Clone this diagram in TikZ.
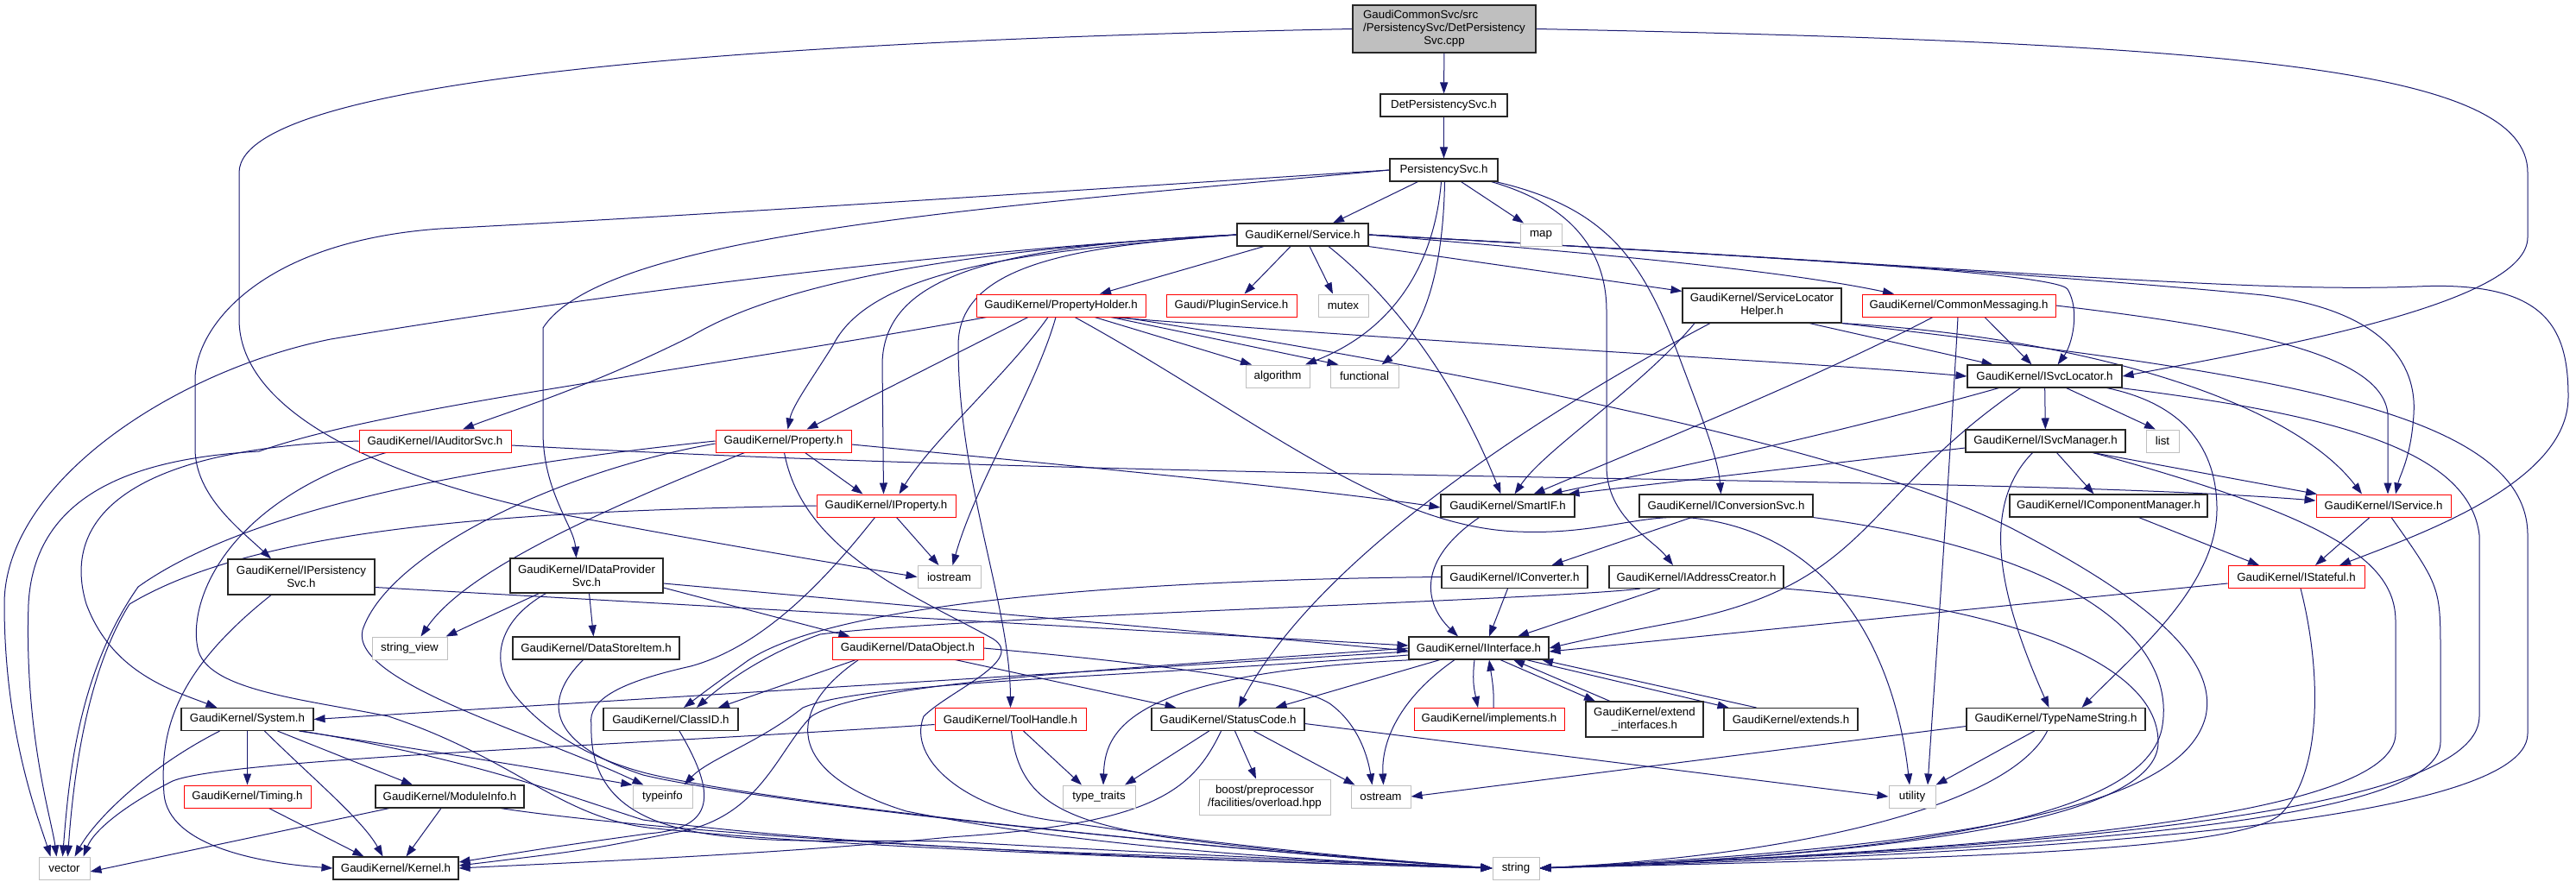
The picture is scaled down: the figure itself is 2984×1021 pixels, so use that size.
\documentclass[tikz,border=0pt]{standalone}
\usepackage{fontspec}
\setmainfont{Liberation Sans}
\usetikzlibrary{arrows.meta}
\definecolor{edgec}{HTML}{191970}
\definecolor{redc}{HTML}{FF0000}
\definecolor{grayb}{HTML}{BFBFBF}
\definecolor{rootf}{HTML}{BFBFBF}
\pgfdeclarelayer{back}
\pgfdeclarelayer{bg}
\pgfsetlayers{back,bg,main}
\newcommand\rootfirst{\setbox0=\hbox{/PersistencySvc/DetPersistency}\hbox to\wd0{GaudiCommonSvc/src\hfil}}
\tikzset{
 nbase/.style={rectangle, inner sep=0pt, minimum height=26pt, align=center, fill=white, font=\fontsize{13.3}{15}\selectfont, line width=1.1pt},
 nb/.style={nbase, draw=black!85},
 nr/.style={nbase, draw=redc, line width=1pt},
 ng/.style={nbase, draw=grayb, line width=1pt},
 nroot/.style={nbase, draw=black!85, fill=rootf, minimum height=55pt},
 dep/.style={draw=edgec, line width=1pt, -{Triangle[length=13pt,width=9pt]}},
}
\begin{document}
\begin{tikzpicture}[x=1pt,y=-1pt]
\begin{pgfonlayer}{back}
\fill[white] (0,0) rectangle (2984,1021);
\end{pgfonlayer}
\useasboundingbox (0,0) rectangle (2984,1021);
% nodes
\node[nroot, minimum width=212pt] (root) at (1673,33.5) {\rootfirst\\/PersistencySvc/DetPersistency\\Svc.cpp};
\node[nb, minimum width=147pt] (detps) at (1672.5,122) {DetPersistencySvc.h};
\node[nb, minimum width=125pt] (ps) at (1672.5,197) {PersistencySvc.h};
\node[nb, minimum width=152pt] (service) at (1509,272) {GaudiKernel/Service.h};
\node[ng, minimum width=48pt] (map) at (1785,272) {map};
\node[nr, minimum width=196pt] (propholder) at (1229,354) {GaudiKernel/PropertyHolder.h};
\node[nr, minimum width=151pt] (plugin) at (1426.5,354) {Gaudi/PluginService.h};
\node[ng, minimum width=58pt] (mutex) at (1556,354) {mutex};
\node[nb, minimum width=184pt, minimum height=40pt] (slh) at (2041,354) {GaudiKernel/ServiceLocator\\Helper.h};
\node[nr, minimum width=224pt] (commsg) at (2269,354) {GaudiKernel/CommonMessaging.h};
\node[ng, minimum width=74pt] (algorithm) at (1480,436) {algorithm};
\node[ng, minimum width=79pt] (functional) at (1580.5,436) {functional};
\node[nb, minimum width=179pt] (isvcloc) at (2368.5,436) {GaudiKernel/ISvcLocator.h};
\node[ng, minimum width=38pt] (list) at (2505,511) {list};
\node[nb, minimum width=185pt] (isvcmgr) at (2369.5,511) {GaudiKernel/ISvcManager.h};
\node[nr, minimum width=176pt] (iaud) at (504,511) {GaudiKernel/IAuditorSvc.h};
\node[nr, minimum width=157pt] (property) at (907.5,511) {GaudiKernel/Property.h};
\node[nr, minimum width=161pt] (iprop) at (1026.5,586) {GaudiKernel/IProperty.h};
\node[nb, minimum width=155pt] (smartif) at (1746.5,586) {GaudiKernel/SmartIF.h};
\node[nb, minimum width=201pt] (iconvsvc) at (1999.5,586) {GaudiKernel/IConversionSvc.h};
\node[nb, minimum width=229pt] (icompmgr) at (2442.5,586) {GaudiKernel/IComponentManager.h};
\node[nr, minimum width=156pt] (iservice) at (2761,586) {GaudiKernel/IService.h};
\node[nb, minimum width=170pt, minimum height=41pt] (ipers) at (349,668.5) {GaudiKernel/IPersistency\\Svc.h};
\node[nb, minimum width=177pt, minimum height=40pt] (idp) at (679.5,667) {GaudiKernel/IDataProvider\\Svc.h};
\node[ng, minimum width=73pt] (iostream) at (1099.5,668.5) {iostream};
\node[nb, minimum width=169pt] (iconv) at (1754.5,668.5) {GaudiKernel/IConverter.h};
\node[nb, minimum width=202pt] (iaddr) at (1965,668.5) {GaudiKernel/IAddressCreator.h};
\node[nr, minimum width=158pt] (istateful) at (2660,668.5) {GaudiKernel/IStateful.h};
\node[ng, minimum width=87pt] (stringview) at (474.5,751) {string\_view};
\node[nb, minimum width=193pt] (dsi) at (690.5,751) {GaudiKernel/DataStoreItem.h};
\node[nr, minimum width=175pt] (dataobj) at (1051.5,751) {GaudiKernel/DataObject.h};
\node[nb, minimum width=162pt] (iinterface) at (1713,751) {GaudiKernel/IInterface.h};
\node[nb, minimum width=153pt] (system) at (286.5,833.5) {GaudiKernel/System.h};
\node[nb, minimum width=156pt] (classid) at (777,833.5) {GaudiKernel/ClassID.h};
\node[nr, minimum width=175pt] (toolhandle) at (1170.5,833.5) {GaudiKernel/ToolHandle.h};
\node[nb, minimum width=177pt] (statuscode) at (1422.5,833.5) {GaudiKernel/StatusCode.h};
\node[nr, minimum width=174pt] (implements) at (1725,833.5) {GaudiKernel/implements.h};
\node[nb, minimum width=136pt, minimum height=41pt] (extint) at (1905,833.5) {GaudiKernel/extend\\\_interfaces.h};
\node[nb, minimum width=155pt] (extends) at (2074.5,833.5) {GaudiKernel/extends.h};
\node[nb, minimum width=207pt] (typenamestr) at (2381.5,833.5) {GaudiKernel/TypeNameString.h};
\node[nr, minimum width=147pt] (timing) at (286.5,923) {GaudiKernel/Timing.h};
\node[nb, minimum width=172pt] (moduleinfo) at (521,923) {GaudiKernel/ModuleInfo.h};
\node[ng, minimum width=69pt] (typeinfo) at (767.5,923) {typeinfo};
\node[ng, minimum width=84pt] (typetraits) at (1273,923) {type\_traits};
\node[ng, minimum width=152pt, minimum height=41pt] (boost) at (1465,923.5) {boost/preprocessor\\/facilities/overload.hpp};
\node[ng, minimum width=69pt] (ostream) at (1599.5,923) {ostream};
\node[ng, minimum width=54pt] (utility) at (2215,923) {utility};
\node[ng, minimum width=59pt] (vector) at (74.5,1006) {vector};
\node[nb, minimum width=145pt] (kernel) at (458.5,1006) {GaudiKernel/Kernel.h};
\node[ng, minimum width=54pt] (string) at (1756,1006) {string};
\begin{pgfonlayer}{bg}
% root
\draw[dep] (root) -- (detps);
\draw[dep] (root.west) .. controls (1000,45) and (277,80) .. (277,200) -- (277,370) .. controls (277,470) and (420,545) .. (620,590) .. controls (800,625) and (950,650) .. (iostream.west);
\draw[dep] (root.east) .. controls (2600,50) and (2928,80) .. (2928,200) -- (2928,275) .. controls (2928,350) and (2650,400) .. (isvcloc.east);
\draw[dep] (detps) -- (ps);
% ps
\draw[dep] ([xshift=-30pt]ps.south) -- ([xshift=35pt]service.north);
\draw[dep] ([xshift=20pt]ps.south) -- ([xshift=-20pt]map.north);
\draw[dep] ([xshift=-3pt]ps.south) .. controls (1662,300) and (1620,380) .. ([xshift=32pt]algorithm.north);
\draw[dep] ([xshift=1pt]ps.south) .. controls (1672,300) and (1655,380) .. ([xshift=20pt]functional.north);
\draw[dep] (ps.west) .. controls (1100,230) and (800,250) .. (510,265) .. controls (300,280) and (226,380) .. (226,440) -- (226,520) .. controls (226,575) and (280,615) .. ([xshift=-35pt]ipers.north);
\draw[dep] (ps.west) .. controls (1150,240) and (700,270) .. (629,380) -- (629,500) .. controls (629,570) and (665,610) .. ([xshift=-12pt]idp.north);
\draw[dep] ([xshift=55pt]ps.south) .. controls (1830,240) and (1861,300) .. (1861,360) -- (1861,540) .. controls (1861,600) and (1915,625) .. ([xshift=-27pt]iaddr.north);
\draw[dep] ([xshift=60pt]ps.south) .. controls (1860,240) and (1900,300) .. (1940,400) .. controls (1970,480) and (1990,530) .. ([xshift=-6pt]iconvsvc.north);
% service
\draw[dep] ([xshift=-45pt]service.south) -- ([xshift=45pt]propholder.north);
\draw[dep] ([xshift=-14pt]service.south) -- ([xshift=15pt]plugin.north);
\draw[dep] ([xshift=8pt]service.south) -- ([xshift=-12pt]mutex.north);
\draw[dep] (service.south east) -- ([yshift=-4pt]slh.north west);
\draw[dep] (service.east) .. controls (1800,290) and (2050,310) .. ([xshift=-75pt]commsg.north);
\draw[dep] (service.east) .. controls (2000,295) and (2380,315) .. (2395,335) .. controls (2410,360) and (2400,400) .. ([xshift=15pt]isvcloc.north);
\draw[dep] (service.east) .. controls (2200,305) and (2500,330) .. (2622,342) .. controls (2760,360) and (2800,420) .. (2796,480) .. controls (2793,530) and (2780,550) .. ([xshift=14pt]iservice.north);
\draw[dep] (service.east) .. controls (2300,310) and (2600,340) .. (2800,332) .. controls (2950,325) and (2975,380) .. (2975,460) .. controls (2975,560) and (2800,620) .. ([xshift=50pt]istateful.north);
\draw[dep] ([xshift=30pt]service.south) .. controls (1620,350) and (1690,450) .. ([xshift=-8pt]smartif.north);
\draw[dep] (service.west) .. controls (1250,285) and (1110,305) .. (1110,400) .. controls (1110,560) and (1170,700) .. (toolhandle.north);
\draw[dep] (service.west) .. controls (1150,285) and (1025,320) .. (1022,420) -- ([xshift=-3pt]iprop.north);
\draw[dep] (service.west) .. controls (1200,290) and (1010,310) .. (965,400) .. controls (940,440) and (918,470) .. ([xshift=5pt]property.north);
\draw[dep] (service.west) .. controls (1100,290) and (900,330) .. (800,390) .. controls (680,450) and (580,480) .. ([xshift=32pt]iaud.north);
\draw[dep] (service.west) .. controls (1100,290) and (700,340) .. (383,393) .. controls (200,430) and (5,560) .. (5,700) .. controls (5,850) and (45,950) .. ([xshift=-16pt]vector.north);
% propholder
\draw[dep] ([xshift=39pt]propholder.south) -- ([xshift=-30pt]algorithm.north);
\draw[dep] ([xshift=58pt]propholder.south) -- ([xshift=-30pt]functional.north);
\draw[dep] ([xshift=-6pt]propholder.south) .. controls (1200,450) and (1130,560) .. ([xshift=4pt]iostream.north);
\draw[dep] ([xshift=-15pt]propholder.south) .. controls (1170,430) and (1080,510) .. ([xshift=15pt]iprop.north);
\draw[dep] ([xshift=-38pt]propholder.south) -- ([xshift=27pt]property.north);
\draw[dep] ([xshift=-86pt]propholder.south) .. controls (800,430) and (450,470) .. (300,523) .. controls (180,530) and (40,560) .. (33,700) .. controls (28,850) and (60,950) .. ([xshift=-9pt]vector.north);
\draw[dep] ([xshift=58pt]propholder.south) .. controls (1700,400) and (2100,420) .. (isvcloc.west);
\draw[dep] ([xshift=16pt]propholder.south) .. controls (1450,480) and (1600,610) .. (1758,616) .. controls (1850,620) and (1900,595) .. (1959,600) .. controls (2150,620) and (2200,800) .. ([xshift=-3pt]utility.north);
\draw[dep] ([xshift=70pt]propholder.south) .. controls (1700,430) and (2150,520) .. (2330,612) .. controls (2480,690) and (2570,760) .. (2555,830) .. controls (2530,930) and (2300,980) .. (string.east);
% slh
\draw[dep] ([xshift=55pt]slh.south) -- ([xshift=-60pt]isvcloc.north);
\draw[dep] ([xshift=-78pt]slh.south) .. controls (1900,450) and (1790,520) .. ([xshift=8pt]smartif.north);
\draw[dep] ([xshift=-60pt]slh.south) .. controls (1800,470) and (1530,640) .. ([xshift=12pt]statuscode.north);
\draw[dep] (slh.south east) .. controls (2400,390) and (2650,460) .. ([xshift=-25pt]iservice.north);
\draw[dep] (slh.south east) .. controls (2600,430) and (2928,470) .. (2928,620) -- (2928,850) .. controls (2928,960) and (2300,990) .. (string.east);
% commsg
\draw[dep] ([xshift=30pt]commsg.south) -- ([xshift=-15pt]isvcloc.north);
\draw[dep] ([xshift=-30pt]commsg.south) .. controls (2100,440) and (1900,520) .. ([xshift=30pt]smartif.north);
\draw[dep] ([xshift=-1pt]commsg.south) .. controls (2255,600) and (2240,800) .. ([xshift=18pt]utility.north);
\draw[dep] (commsg.east) .. controls (2600,380) and (2760,410) .. (2766,480) -- ([xshift=5pt]iservice.north);
% isvcloc
\draw[dep] (isvcloc) -- (isvcmgr);
\draw[dep] ([xshift=25pt]isvcloc.south) -- ([xshift=-8pt]list.north);
\draw[dep] ([xshift=-53pt]isvcloc.south) .. controls (2100,510) and (1900,550) .. ([xshift=50pt]smartif.north);
\draw[dep] ([xshift=-28pt]isvcloc.south) .. controls (2150,580) and (2170,680) .. (1930,723) .. controls (1850,738) and (1820,745) .. (iinterface.east);
\draw[dep] ([xshift=72pt]isvcloc.south) .. controls (2530,468) and (2568,520) .. (2568,590) .. controls (2568,680) and (2470,760) .. ([xshift=30pt]typenamestr.north);
\draw[dep] ([xshift=88pt]isvcloc.south) .. controls (2700,480) and (2860,520) .. (2872,620) -- (2872,830) .. controls (2872,950) and (2300,985) .. (string.east);
% isvcmgr
\draw[dep] ([xshift=13pt]isvcmgr.south) -- ([xshift=-17pt]icompmgr.north);
\draw[dep] ([xshift=55pt]isvcmgr.south) -- ([xshift=-77pt]iservice.north);
\draw[dep] ([yshift=-8pt]isvcmgr.west) -- ([xshift=70pt]smartif.north);
\draw[dep] ([xshift=-15pt]isvcmgr.south) .. controls (2290,590) and (2320,700) .. ([xshift=-8pt]typenamestr.north);
\draw[dep] ([xshift=55pt]isvcmgr.south) .. controls (2700,600) and (2775,650) .. (2775,720) -- (2775,850) .. controls (2775,950) and (2300,985) .. (string.east);
% icompmgr, iservice, istateful
\draw[dep] ([xshift=35pt]icompmgr.south) -- ([xshift=-43pt]istateful.north);
\draw[dep] ([xshift=-16pt]iservice.south) -- ([xshift=22pt]istateful.north);
\draw[dep] ([xshift=9pt]iservice.south) .. controls (2827,680) .. (2827,760) -- (2827,860) .. controls (2827,960) and (2300,985) .. (string.east);
\draw[dep] ([yshift=-7.5pt]istateful.west) -- ([yshift=-4pt]iinterface.east);
\draw[dep] ([xshift=5pt]istateful.south) .. controls (2690,780) and (2690,900) .. (2640,945) .. controls (2580,990) and (2200,995) .. (string.east);
% typenamestr
\draw[dep] ([xshift=-25pt]typenamestr.south) -- (utility.north east);
\draw[dep] ([yshift=-8pt]typenamestr.west) -- (ostream.east);
\draw[dep] ([xshift=-10pt]typenamestr.south) .. controls (2330,930) and (2100,990) .. (string.east);
% smartif, iconvsvc, iconv, iaddr
\draw[dep] ([xshift=-33pt]smartif.south) .. controls (1640,650) and (1650,700) .. ([xshift=-24pt]iinterface.north);
\draw[dep] ([xshift=-40pt]iconvsvc.south) -- ([xshift=43pt]iconv.north);
\draw[dep] (iconvsvc.south east) .. controls (2400,640) and (2520,740) .. (2505,840) .. controls (2490,950) and (2200,990) .. (string.east);
\draw[dep] ([xshift=-8pt]iconv.south) -- ([xshift=12pt]iinterface.north);
\draw[dep] (iconv.west) .. controls (1300,672) and (950,700) .. (860,770) .. controls (825,795) .. ([xshift=15pt]classid.north);
\draw[dep] ([xshift=-42pt]iaddr.south) -- ([xshift=45pt]iinterface.north);
\draw[dep] ([xshift=-65pt]iaddr.south) .. controls (1800,695) and (1100,715) .. (950,735) .. controls (880,760) and (835,795) .. ([xshift=30pt]classid.north);
\draw[dep] (iaddr.south east) .. controls (2300,700) and (2500,760) .. (2500,860) .. controls (2500,950) and (2200,990) .. (string.east);
% iinterface
\draw[dep] ([xshift=-5pt]iinterface.south) .. controls (1705,790) and (1708,800) .. ([xshift=-13pt]implements.north);
\draw[dep] ([xshift=5pt]implements.north) .. controls (1731,800) and (1728,785) .. ([xshift=12pt]iinterface.south);
\draw[dep] ([xshift=25pt]iinterface.south) -- ([xshift=-57pt]extint.north);
\draw[dep] ([xshift=-40pt]extint.north) -- ([xshift=40pt]iinterface.south);
\draw[dep] ([xshift=55pt]iinterface.south) -- ([xshift=-72pt]extends.north);
\draw[dep] ([xshift=-40pt]extends.north) -- ([xshift=73pt]iinterface.south);
\draw[dep] ([yshift=-4pt]iinterface.west) -- (system.east);
\draw[dep] ([xshift=-45pt]iinterface.south) -- ([xshift=55pt]statuscode.north);
\draw[dep] ([xshift=-28pt]iinterface.south) .. controls (1620,810) and (1600,860) .. ([xshift=3pt]ostream.north);
\draw[dep] ([yshift=-8pt]iinterface.west) .. controls (1300,785) and (1000,790) .. (930,820) .. controls (880,860) and (820,880) .. ([xshift=25pt]typeinfo.north);
\draw[dep] ([xshift=-75pt]iinterface.south) .. controls (1300,780) and (1280,850) .. ([xshift=5pt]typetraits.north);
\draw[dep] (iinterface.west) .. controls (1300,775) and (1000,790) .. (940,830) .. controls (900,870) and (880,950) .. (780,965) .. controls (680,985) .. ([yshift=3pt]kernel.east);
% statuscode
\draw[dep] ([xshift=-22pt]statuscode.south) -- ([xshift=30pt]typetraits.north);
\draw[dep] ([xshift=8pt]statuscode.south) -- ([xshift=-10pt]boost.north);
\draw[dep] ([xshift=30pt]statuscode.south) -- ([xshift=-30pt]ostream.north);
\draw[dep] ([yshift=-5pt]statuscode.east) -- (utility.west);
\draw[dep] ([xshift=-8pt]statuscode.south) .. controls (1380,920) and (1330,955) .. (1100,970) .. controls (900,990) and (650,1000) .. (kernel.east);
% toolhandle
\draw[dep] ([xshift=15pt]toolhandle.south) -- ([xshift=-20pt]typetraits.north);
\draw[dep] ([xshift=1pt]toolhandle.south) .. controls (1180,920) and (1220,950) .. (1350,970) .. controls (1500,990) and (1650,1000) .. (string.west);
\draw[dep] ([yshift=-6pt]toolhandle.west) .. controls (700,865) and (260,880) .. (200,905) .. controls (150,930) and (110,960) .. ([xshift=22pt]vector.north);
% classid
\draw[dep] ([xshift=10pt]classid.south) .. controls (830,920) and (830,960) .. (750,966) .. controls (650,980) .. ([yshift=7pt]kernel.east);
% dataobj
\draw[dep] ([xshift=-60pt]dataobj.south) -- ([xshift=55pt]classid.north);
\draw[dep] ([xshift=55pt]dataobj.south) -- ([xshift=-60pt]statuscode.north);
\draw[dep] (dataobj.east) .. controls (1350,770) and (1500,790) .. (1540,815) .. controls (1575,840) and (1585,880) .. ([xshift=-10pt]ostream.north);
\draw[dep] ([xshift=-57pt]dataobj.south) .. controls (900,830) and (920,900) .. (1050,940) .. controls (1300,990) and (1600,1000) .. (string.west);
% dsi, idp
\draw[dep] ([xshift=-15pt]dsi.south) .. controls (630,810) and (630,860) .. (745,898) .. controls (900,935) and (1500,992) .. (string.west);
\draw[dep] ([xshift=-55pt]idp.south) -- ([xshift=42pt]stringview.north);
\draw[dep] ([xshift=3pt]idp.south) -- ([xshift=-3pt]dsi.north);
\draw[dep] ([yshift=-14pt]idp.east) -- ([xshift=-67pt]dataobj.north);
\draw[dep] ([yshift=-9pt]idp.east) -- ([yshift=-3pt]iinterface.west);
\draw[dep] ([xshift=-47pt]idp.south) .. controls (575,720) and (565,770) .. (600,810) .. controls (640,855) and (690,880) .. (745,895) .. controls (900,935) and (1500,992) .. (string.west);
% ipers
\draw[dep] ([yshift=-12pt]ipers.east) -- ([yshift=3pt]iinterface.west);
\draw[dep] ([xshift=-35pt]ipers.south) .. controls (200,780) and (185,850) .. (190,920) .. controls (195,980) and (300,1000) .. (kernel.west);
% iaud
\draw[dep] ([yshift=-5pt]iaud.east) .. controls (1400,560) and (2300,550) .. ([yshift=6pt]iservice.west);
\draw[dep] (iaud.west) .. controls (150,520) and (70,600) .. (100,700) .. controls (130,780) and (200,800) .. ([xshift=-35pt]system.north);
\draw[dep] ([xshift=-57pt]iaud.south) .. controls (260,580) and (215,700) .. (230,755) .. controls (245,800) and (350,810) .. (450,830) .. controls (600,880) and (650,950) .. (760,960) .. controls (1000,985) and (1500,1000) .. (string.west);
% property
\draw[dep] ([xshift=25pt]property.south) -- ([xshift=-27pt]iprop.north);
\draw[dep] ([yshift=-4pt]property.east) .. controls (1300,545) and (1550,570) .. ([yshift=-2pt]smartif.west);
\draw[dep] ([xshift=-45pt]property.south) .. controls (700,590) and (540,660) .. ([xshift=13pt]stringview.north);
\draw[dep] ([yshift=-3pt]property.west) .. controls (650,545) and (450,640) .. (420,730) .. controls (405,790) and (620,850) .. ([xshift=-22pt]typeinfo.north);
\draw[dep] (property.west) .. controls (600,535) and (300,580) .. (160,680) .. controls (90,780) and (80,900) .. ([xshift=-2pt]vector.north);
\draw[dep] ([xshift=1pt]property.south) .. controls (930,640) and (1060,690) .. (1150,740) .. controls (1190,765) and (1100,800) .. (1070,830) .. controls (1050,880) and (1120,940) .. (1230,952) .. controls (1450,985) and (1650,1000) .. (string.west);
% iprop
\draw[dep] ([xshift=12pt]iprop.south) -- ([xshift=-12pt]iostream.north);
\draw[dep] (iprop.west) .. controls (600,592) and (300,610) .. (150,700) .. controls (100,780) and (85,900) .. ([xshift=4pt]vector.north);
\draw[dep] ([xshift=-13pt]iprop.south) .. controls (950,680) and (880,750) .. (800,772) .. controls (720,790) and (680,810) .. (685,840) .. controls (680,1000) and (900,970) .. (1100,975) .. controls (1400,992) and (1600,1000) .. (string.west);
% system
\draw[dep] (system) -- (timing);
\draw[dep] ([xshift=-32pt]system.south) .. controls (170,890) and (110,950) .. ([xshift=12pt]vector.north);
\draw[dep] ([xshift=35pt]system.south) -- ([xshift=-43pt]moduleinfo.north);
\draw[dep] ([xshift=20pt]system.south) .. controls (360,900) and (420,950) .. ([xshift=-15pt]kernel.north);
\draw[dep] ([xshift=60pt]system.south) .. controls (500,870) and (650,895) .. (typeinfo.north west);
\draw[dep] ([xshift=63pt]system.south) .. controls (550,880) and (650,920) .. (745,950) .. controls (1000,985) and (1500,1000) .. (string.west);
% timing, moduleinfo
\draw[dep] ([xshift=25pt]timing.south) -- ([xshift=-37pt]kernel.north);
\draw[dep] ([xshift=-70pt]moduleinfo.south) -- ([yshift=-4pt]vector.east);
\draw[dep] ([xshift=-10pt]moduleinfo.south) -- ([xshift=12pt]kernel.north);
\draw[dep] ([xshift=59pt]moduleinfo.south) .. controls (700,955) and (1000,980) .. (1300,990) .. controls (1500,997) and (1650,1003) .. (string.west);
\end{pgfonlayer}
\end{tikzpicture}
\end{document}
